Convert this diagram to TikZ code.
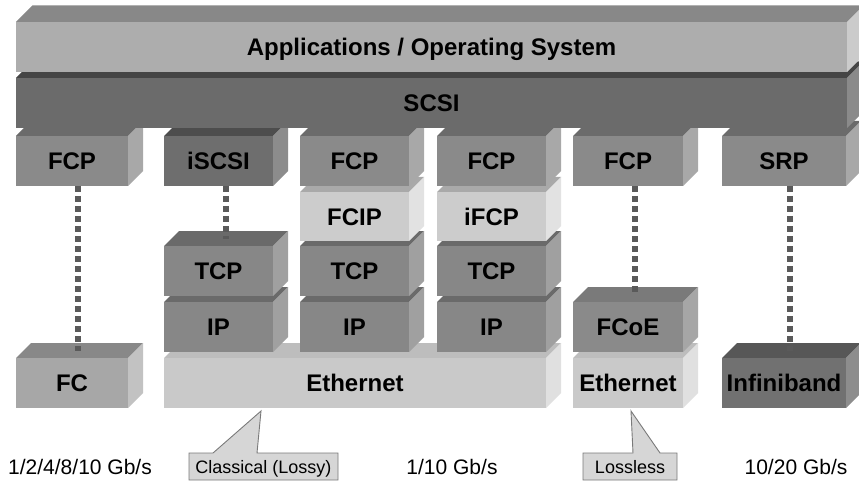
\documentclass[tikz,border=0pt]{standalone}
\usepackage{fontspec}
\setmainfont{Liberation Sans}
\definecolor{appF}{HTML}{ADADAD}\definecolor{appT}{HTML}{888888}\definecolor{appS}{HTML}{CBCBCB}
\definecolor{scsiF}{HTML}{6B6B6B}\definecolor{scsiT}{HTML}{454545}\definecolor{scsiS}{HTML}{8A8A8A}
\definecolor{fcpF}{HTML}{8A8A8A}\definecolor{fcpT}{HTML}{6B6B6B}\definecolor{fcpS}{HTML}{A8A8A8}
\definecolor{iscF}{HTML}{6E6E6E}\definecolor{iscT}{HTML}{4D4D4D}\definecolor{iscS}{HTML}{8C8C8C}
\definecolor{litF}{HTML}{CCCCCC}\definecolor{litT}{HTML}{A9A9A9}\definecolor{litS}{HTML}{E2E2E2}
\definecolor{tcpF}{HTML}{878787}\definecolor{tcpT}{HTML}{6A6A6A}\definecolor{tcpS}{HTML}{A0A0A0}
\definecolor{ethF}{HTML}{C9C9C9}\definecolor{ethT}{HTML}{BDBDBD}\definecolor{ethS}{HTML}{E0E0E0}
\definecolor{fcF}{HTML}{A7A7A7}\definecolor{fcT}{HTML}{888888}\definecolor{fcS}{HTML}{C2C2C2}
\definecolor{foeF}{HTML}{8A8A8A}\definecolor{foeT}{HTML}{7A7A7A}\definecolor{foeS}{HTML}{A6A6A6}
\definecolor{ibF}{HTML}{717171}\definecolor{ibT}{HTML}{575757}\definecolor{ibS}{HTML}{8D8D8D}
\definecolor{dotc}{HTML}{5A5A5A}
\definecolor{calF}{HTML}{D6D6D6}\definecolor{calD}{HTML}{7A7A7A}
\tikzset{
  face/.style={inner sep=0pt, outer sep=0pt, font=\fontsize{24}{28}\selectfont\bfseries,
    text height=17.2pt, text depth=0pt},
  dots/.style={draw=dotc, line width=6pt, dash pattern=on 6pt off 4pt},
  callout/.style={fill=calF, draw=calD, line width=0.9pt},
  calltext/.style={inner sep=0pt, font=\fontsize{18}{22}\selectfont, text height=13pt, text depth=0pt},
  speed/.style={inner sep=0pt, font=\fontsize{21}{25}\selectfont, text height=15pt, text depth=0pt}
}
% #1 name, #2 xl, #3 yt, #4 xr, #5 yb, #6 scheme, #7 label, #8 depth
\newcommand\layerbox[8]{%
  \fill[fill=#6T] (#2,#3) -- ++(#8,-#8) -- ({#4+#8},{#3-#8}) -- (#4,#3) -- cycle;
  \fill[fill=#6S] (#4,#3) -- ++(#8,-#8) -- ({#4+#8},{#5-#8}) -- (#4,#5) -- cycle;
  \node[face, fill=#6F, minimum width={(#4-#2)*1pt}, minimum height={(#5-#3)*1pt}]
    (#1) at ({(#2+#4)/2},{(#3+#5)/2}) {#7};
}
\begin{document}
\begin{tikzpicture}[x=1pt,y=-1pt]
\useasboundingbox[fill=white] (0,0) rectangle (859,481);
% bottom row
\layerbox{fc}{16}{358}{128}{408}{fc}{FC}{15}
\layerbox{ethA}{164}{358}{546}{408}{eth}{Ethernet}{15}
\layerbox{ethB}{573}{358}{683}{408}{eth}{Ethernet}{15}
\layerbox{ib}{722}{358}{846}{408}{ib}{Infiniband}{15}
% IP row
\layerbox{ipA}{164}{302}{273}{352}{tcp}{IP}{15}
\layerbox{ipB}{300}{302}{409}{352}{tcp}{IP}{15}
\layerbox{ipC}{437}{302}{546}{352}{tcp}{IP}{15}
\layerbox{fcoe}{573}{302}{683}{352}{foe}{FCoE}{15}
% TCP row
\layerbox{tcpA}{164}{246}{273}{296}{tcp}{TCP}{15}
\layerbox{tcpB}{300}{246}{409}{296}{tcp}{TCP}{15}
\layerbox{tcpC}{437}{246}{546}{296}{tcp}{TCP}{15}
% FCIP row
\layerbox{fcip}{300}{192}{409}{241}{lit}{FCIP}{15}
\layerbox{ifcp}{437}{192}{546}{241}{lit}{iFCP}{15}
% top protocol row
\layerbox{fcpA}{16}{136}{128}{186}{fcp}{FCP}{15}
\layerbox{iscsi}{164}{136}{273}{186}{isc}{iSCSI}{15}
\layerbox{fcpB}{300}{136}{409}{186}{fcp}{FCP}{15}
\layerbox{fcpC}{437}{136}{546}{186}{fcp}{FCP}{15}
\layerbox{fcpD}{573}{136}{683}{186}{fcp}{FCP}{15}
\layerbox{srp}{722}{136}{846}{186}{fcp}{SRP}{15}
% SCSI and applications
\layerbox{scsi}{16}{78}{847}{128}{scsi}{SCSI}{16.5}
\layerbox{apps}{16}{22}{847}{72}{app}{Applications / Operating System}{16.5}
% dotted connectors
\draw[dots] ([xshift=6pt]fcpA.south) -- ([xshift=6pt,yshift=7pt]fc.north);
\draw[dots] ([xshift=7pt]iscsi.south) -- ([xshift=7pt,yshift=7pt]tcpA.north);
\draw[dots] ([xshift=7pt]fcpD.south) -- ([xshift=7pt,yshift=7pt]fcoe.north);
\draw[dots] ([xshift=6pt]srp.south) -- ([xshift=6pt,yshift=7pt]ib.north);
% callouts
\coordinate (tipA) at (261,411);
\coordinate (tipB) at (631,411);
\draw[callout] (189,453) -- (213,453) -- (tipA) -- (257,453) -- (338,453) -- (338,480) -- (189,480) -- cycle;
\node[calltext] (lossy) at (263.5,466.5) {Classical (Lossy)};
\draw[callout] (583,453) -- (633,453) -- (tipB) -- (660,453) -- (677,453) -- (677,480) -- (583,480) -- cycle;
\node[calltext] (lossless) at (630,466.5) {Lossless};
% speeds
\node[speed] (spA) at (80,467) {1/2/4/8/10 Gb/s};
\node[speed] (spB) at (452,467) {1/10 Gb/s};
\node[speed] (spC) at (796,467) {10/20 Gb/s};
\end{tikzpicture}
\end{document}
